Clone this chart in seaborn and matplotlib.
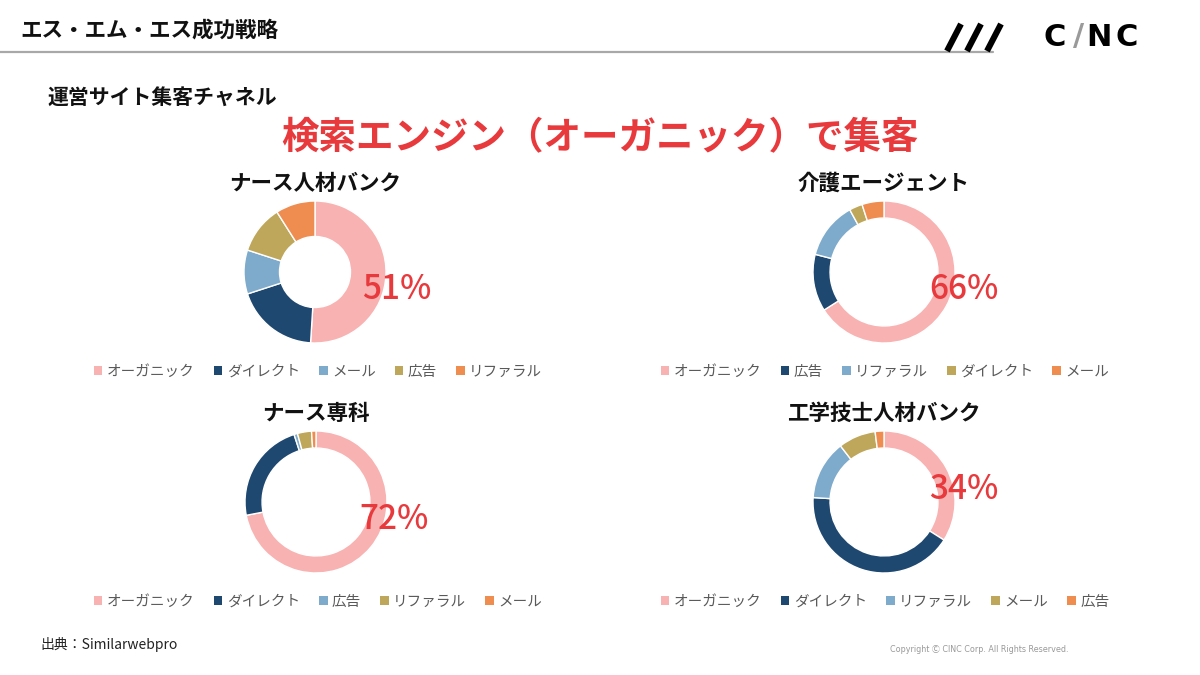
import numpy as np
import matplotlib.pyplot as plt
import seaborn as sns
from matplotlib.lines import Line2D
from matplotlib.patches import Patch

# chart values
sites = ['ナース人材バンク', '介護エージェント', 'ナース専科', '工学技士人材バンク']

labels_1 = ['オーガニック', 'ダイレクト', 'メール', '広告', 'リファラル']
vals_1 = [51, 19, 10, 11, 9]
labels_2 = ['オーガニック', '広告', 'リファラル', 'ダイレクト', 'メール']
vals_2 = [66, 13, 13, 3, 5]
labels_3 = ['オーガニック', 'ダイレクト', '広告', 'リファラル', 'メール']
vals_3 = [72, 23, 0.8, 3.2, 1]
labels_4 = ['オーガニック', 'ダイレクト', 'リファラル', 'メール', '広告']
vals_4 = [34, 42, 13.5, 8.5, 2]

sns.set_theme(style='white')
plt.rcParams['font.family'] = ['Noto Sans CJK JP', 'DejaVu Sans']

palette = sns.color_palette(['#F7B2B1', '#1E4870', '#7EABCB', '#BEA65A', '#EF8C50'])
red = '#E8393C'

W, H = 1200, 675
fig = plt.figure(figsize=(12, 6.75), dpi=100)

def fx(x):
    return x / W

def fy(y):
    return 1 - y / H

# header
fig.text(fx(20), fy(30), 'エス・エム・エス成功戦略', fontsize=15.5, fontweight='bold',
         va='center', ha='left', color='#111111')
fig.add_artist(Line2D([0, fx(993)], [fy(52), fy(52)], color='#A8A8A8', lw=1.6))
for x0 in [947, 967, 987]:
    fig.add_artist(Line2D([fx(x0), fx(x0 + 14)], [fy(51), fy(24)], color='black',
                          lw=4.4, solid_capstyle='butt'))
logo = [('C', 1055, 'black'), ('/', 1079, '#9A9A9A'), ('N', 1099, 'black'), ('C', 1127, 'black')]
for ch, x, c in logo:
    fig.text(fx(x), fy(37), ch, fontsize=22, fontweight='bold', color=c,
             ha='center', va='center', family='DejaVu Sans')

fig.text(fx(47), fy(97), '運営サイト集客チャネル', fontsize=15, fontweight='bold',
         va='center', ha='left', color='#111111')
fig.text(fx(600), fy(138), '検索エンジン（オーガニック）で集客', fontsize=27,
         fontweight='bold', va='center', ha='center', color=red)

charts = [
    (labels_1, vals_1, (315, 272), 0.50, (1.15, -0.25), (318, 372)),
    (labels_2, vals_2, (884, 272), 0.24, (1.13, -0.25), (885, 372)),
    (labels_3, vals_3, (316, 502), 0.24, (1.10, -0.25), (318, 602)),
    (labels_4, vals_4, (884, 502), 0.24, (1.13, 0.17), (885, 602)),
]

R = 71  # donut radius in pixels
half = 80
for title, (labels, vals, (cx, cy), ring, lab_pos, (lx, ly)) in zip(sites, charts):
    ax = fig.add_axes([fx(cx - half), 1 - (cy + half) / H, 2 * half / W, 2 * half / H])
    wedges, _ = ax.pie(vals, colors=palette, startangle=90, counterclock=False,
                       radius=1, wedgeprops=dict(width=ring, edgecolor='white', linewidth=1))
    ax.set_xlim(-half / R, half / R)
    ax.set_ylim(-half / R, half / R)
    ax.set_aspect('equal')
    ax.axis('off')
    ax.text(lab_pos[0], lab_pos[1], f'{vals[0]:.0f}%', color=red, fontsize=24,
            fontweight='medium', ha='center', va='center')
    fig.text(fx(cx), fy(cy - 89), title, fontsize=15.5, fontweight='bold',
             ha='center', va='center', color='#111111')
    handles = [Patch(facecolor=c, edgecolor='none', label=l) for c, l in zip(palette, labels)]
    fig.legend(handles=handles, loc='center', bbox_to_anchor=(fx(lx), fy(ly)), ncol=5,
               frameon=False, fontsize=10.5, labelcolor='#595959', handlelength=0.6,
               handleheight=0.6, handletextpad=0.3, columnspacing=1.3)

fig.text(fx(40), fy(644), '出典：Similarwebpro', fontsize=10, va='center', ha='left',
         color='#222222')
fig.text(fx(890), fy(650), 'Copyright Ⓒ CINC Corp. All Rights Reserved.', fontsize=5.8,
         va='center', ha='left', color='#999999', family=['DejaVu Sans', 'Noto Sans CJK JP'])

fig.savefig('out.png', dpi=100)
